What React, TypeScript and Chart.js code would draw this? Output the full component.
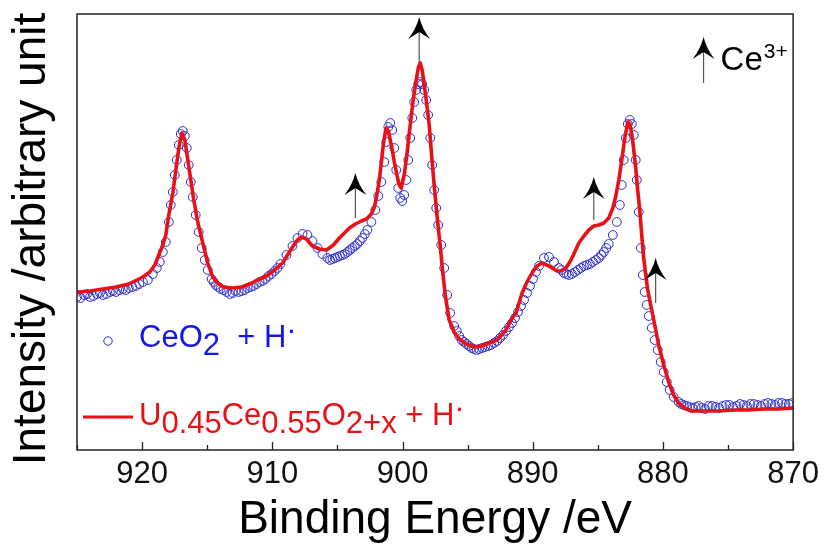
import React, { useEffect, useRef } from 'react';
import { Chart, registerables } from 'chart.js';

Chart.register(...registerables);

// Binding energy (eV) and intensity (arbitrary units) of U0.45Ce0.55O2+x + H· (red line)
const redE = [925.0, 924.0, 923.01, 922.01, 921.02, 919.94, 919.41, 919.02, 918.72, 918.41, 918.18, 917.95, 917.64, 917.41, 917.18, 916.95, 916.72, 916.49, 916.26, 916.03, 915.73, 915.34, 914.96, 914.58, 914.2, 913.74, 913.05, 912.36, 911.74, 911.13, 910.44, 909.83, 909.21, 908.83, 908.45, 908.07, 907.76, 907.38, 906.92, 906.38, 905.84, 905.31, 904.85, 904.46, 904.08, 903.62, 903.16, 902.78, 902.39, 902.16, 902.01, 901.78, 901.63, 901.48, 901.32, 901.25, 901.09, 900.86, 900.63, 900.4, 900.25, 900.1, 899.87, 899.64, 899.41, 899.18, 898.95, 898.79, 898.64, 898.49, 898.33, 898.18, 897.95, 897.8, 897.57, 897.34, 897.11, 896.95, 896.72, 896.42, 896.03, 895.65, 895.11, 894.5, 893.89, 893.35, 892.74, 892.05, 891.67, 891.28, 890.82, 890.44, 890.06, 889.67, 889.29, 888.91, 888.52, 888.14, 887.84, 887.45, 887.15, 886.84, 886.46, 886.07, 885.69, 885.31, 884.92, 884.54, 884.16, 883.85, 883.62, 883.39, 883.16, 882.93, 882.7, 882.55, 882.39, 882.24, 882.09, 881.94, 881.78, 881.63, 881.48, 881.32, 881.17, 880.94, 880.63, 880.33, 879.94, 879.56, 879.18, 878.79, 878.33, 877.8, 876.88, 875.73, 874.58, 873.43, 872.28, 871.13, 869.98];
const redI = [158, 159, 161, 163, 166, 173, 178, 185, 195, 205, 215, 235, 257, 280, 302, 317, 310, 290, 270, 250, 228, 207, 187, 173, 167, 163, 162, 163, 166, 170, 174, 180, 187, 195, 203, 210, 213, 211, 204, 201, 200, 205, 212, 217, 222, 226, 229, 231, 236, 243, 252, 270, 287, 305, 318, 322, 319, 305, 288, 273, 265, 262, 275, 298, 325, 350, 370, 382, 387, 380, 365, 350, 325, 300, 265, 233, 205, 183, 155, 130, 118, 111, 106, 103, 104, 107, 110, 120, 130, 137, 157, 168, 177, 184, 187, 185, 182, 179, 179, 182, 188, 196, 207, 214, 220, 224, 225, 227, 232, 242, 254, 270, 290, 312, 328, 326, 316, 300, 282, 260, 240, 215, 192, 175, 160, 145, 125, 105, 85, 68, 55, 47, 42, 39, 39, 39, 40, 40, 41, 41, 42];

// Binding energy (eV) and intensity (arbitrary units) of CeO2 + H· (blue circles)
const blueE = [925.0, 924.46, 924.0, 923.47, 923.01, 922.47, 922.01, 921.48, 921.02, 920.48, 919.94, 919.56, 919.18, 918.87, 918.64, 918.41, 918.18, 917.95, 917.8, 917.64, 917.49, 917.34, 917.18, 917.03, 916.88, 916.72, 916.57, 916.42, 916.26, 916.11, 915.88, 915.65, 915.42, 915.19, 914.96, 914.66, 914.35, 913.97, 913.51, 913.05, 912.59, 912.13, 911.67, 911.21, 910.75, 910.29, 909.83, 909.37, 908.91, 908.45, 908.07, 907.68, 907.3, 906.92, 906.53, 906.15, 905.77, 905.38, 905.0, 904.62, 904.23, 903.85, 903.47, 903.08, 902.7, 902.39, 902.09, 901.86, 901.63, 901.4, 901.25, 901.09, 900.94, 900.79, 900.63, 900.48, 900.33, 900.17, 900.02, 899.87, 899.71, 899.56, 899.41, 899.25, 899.1, 898.95, 898.79, 898.64, 898.49, 898.33, 898.18, 898.03, 897.87, 897.72, 897.57, 897.41, 897.26, 897.03, 896.8, 896.57, 896.34, 896.03, 895.65, 895.27, 894.89, 894.5, 894.12, 893.66, 893.2, 892.74, 892.28, 891.82, 891.36, 890.9, 890.44, 889.98, 889.52, 889.14, 888.75, 888.37, 887.99, 887.61, 887.22, 886.76, 886.3, 885.84, 885.38, 884.92, 884.54, 884.16, 883.85, 883.54, 883.31, 883.16, 883.01, 882.85, 882.7, 882.55, 882.39, 882.24, 882.09, 882.01, 881.86, 881.7, 881.55, 881.4, 881.25, 881.09, 880.86, 880.63, 880.4, 880.17, 879.94, 879.71, 879.48, 879.18, 878.79, 878.41, 877.95, 877.49, 877.03, 876.49, 875.96, 875.42, 874.89, 874.35, 873.81, 873.28, 872.74, 872.2, 871.67, 871.13, 870.59, 870.06,
  924.73, 924.23, 923.74, 923.24, 922.74, 922.24, 921.75, 921.25, 920.75, 920.21,
  914.5, 914.15, 913.74, 913.28, 912.82, 912.36, 911.9, 911.44, 910.98, 910.52, 910.06, 909.6,
  905.57, 905.19, 904.81, 904.43, 904.04, 903.66, 903.27, 902.89,
  895.84, 895.46, 895.08, 894.7, 894.31, 893.89, 893.43, 892.97, 892.51, 892.05, 891.59, 891.13, 890.67, 890.21, 889.75,
  887.8, 887.41, 886.99, 886.53, 886.07, 885.61, 885.15, 884.73, 884.35,
  878.6, 878.18, 877.72, 877.26, 876.76, 876.22, 875.69, 875.15, 874.62, 874.08, 873.55, 873.01, 872.47, 871.94, 871.4, 870.86, 870.33];
const blueI = [153, 155, 153, 156, 155, 158, 158, 161, 162, 164, 168, 170, 176, 182, 188, 198, 208, 228, 245, 258, 275, 290, 305, 316, 319, 314, 302, 285, 268, 253, 235, 218, 202, 190, 180, 171, 165, 161, 158, 157, 158, 160, 163, 166, 169, 174, 179, 186, 195, 204, 212, 216, 215, 209, 202, 196, 192, 191, 193, 195, 198, 202, 206, 212, 220, 228, 240, 254, 268, 288, 308, 323, 327, 320, 302, 280, 262, 252, 249, 255, 270, 290, 312, 332, 348, 360, 366, 368, 366, 360, 350, 335, 312, 285, 260, 242, 225, 205, 182, 155, 137, 124, 114, 108, 104, 101, 101, 103, 105, 109, 115, 123, 132, 144, 157, 171, 184, 192, 193, 188, 182, 177, 175, 178, 182, 185, 188, 192, 198, 206, 215, 228, 245, 265, 290, 312, 326, 330, 326, 315, 290, 270, 238, 202, 175, 158, 145, 134, 122, 110, 100, 88, 78, 68, 60, 53, 48, 45, 43, 43, 42, 44, 43, 44, 45, 44, 45, 46, 45, 46, 46, 47, 46, 47,
  152, 156, 154, 157, 156, 159, 160, 160, 163, 166,
  168, 163, 160, 156, 159, 159, 162, 164, 168, 171, 176, 182,
  190, 192, 194, 196, 200, 204, 209, 216,
  119, 110, 106, 102, 100, 102, 104, 107, 112, 119, 127, 138, 150, 164, 178,
  180, 176, 176, 180, 184, 186, 190, 195, 202,
  46, 44, 42, 44, 41, 44, 42, 45, 43, 46, 44, 46, 44, 47, 45, 47, 46];

// Ce3+ marker arrows: position (eV), tip and tail (intensity units)
const arrowE = [903.62, 898.72, 885.31, 880.56];
const arrowTipI = [277, 433, 273, 192];
const arrowTailI = [232, 387, 230, 147];
const keyArrowE = 876.88;
const keyArrowTipI = 413;
const keyArrowTailI = 367;

const xMin = 870;
const xMax = 925;
const yMin = 0;
const yMax = 436;

const FONT = "'Liberation Sans', Arial, Helvetica, sans-serif";
const RED = 'rgb(232,18,22)';
const BLUE_TEXT = 'rgb(22,22,232)';
const BLUE_MARK = 'rgb(44,44,205)';

type Seg = [string, number];

function drawSegments(ctx: CanvasRenderingContext2D, x: number, y: number, segs: Seg[], size: number, color: string) {
  ctx.font = `${size}px ${FONT}`;
  ctx.fillStyle = color;
  ctx.textAlign = 'left';
  ctx.textBaseline = 'alphabetic';
  let cx = x;
  for (const [t, dy] of segs) {
    ctx.fillText(t, cx, y + dy);
    cx += ctx.measureText(t).width;
  }
}

function drawArrow(ctx: CanvasRenderingContext2D, x: number, yTip: number, yTail: number) {
  const hw = 11;
  const hh = 22;
  const notch = 15;
  ctx.strokeStyle = '#555';
  ctx.lineWidth = 1.2;
  ctx.beginPath();
  ctx.moveTo(x, yTip + notch);
  ctx.lineTo(x, yTail);
  ctx.stroke();
  ctx.fillStyle = '#000';
  ctx.beginPath();
  ctx.moveTo(x, yTip);
  ctx.quadraticCurveTo(x + 3, yTip + 12, x + hw, yTip + hh);
  ctx.lineTo(x, yTip + notch);
  ctx.lineTo(x - hw, yTip + hh);
  ctx.quadraticCurveTo(x - 3, yTip + 12, x, yTip);
  ctx.closePath();
  ctx.fill();
}

const decorPlugin = {
  id: 'decor',
  afterDraw(chart: any) {
    const { ctx, chartArea: a, scales } = chart;
    const xs = scales.x;
    const ys = scales.y;
    ctx.save();
    // frame
    ctx.strokeStyle = '#222';
    ctx.lineWidth = 1.5;
    ctx.strokeRect(a.left, a.top, a.right - a.left, a.bottom - a.top);
    // inward ticks
    ctx.beginPath();
    for (const t of xs.ticks) {
      const px = Math.round(xs.getPixelForValue(t.value)) + 0.5;
      const len = t.value % 10 === 0 ? 8 : 5;
      ctx.moveTo(px, a.bottom);
      ctx.lineTo(px, a.bottom - len);
    }
    ctx.lineWidth = 1.3;
    ctx.stroke();

    // arrows
    arrowE.forEach((e, i) => {
      drawArrow(ctx, xs.getPixelForValue(e), ys.getPixelForValue(arrowTipI[i]), ys.getPixelForValue(arrowTailI[i]));
    });
    const kx = xs.getPixelForValue(keyArrowE);
    const kTip = ys.getPixelForValue(keyArrowTipI);
    drawArrow(ctx, kx, kTip, ys.getPixelForValue(keyArrowTailI));
    drawSegments(ctx, kx + 17, kTip + 33, [['Ce', 0]], 33, '#000');
    ctx.font = `33px ${FONT}`;
    const ceW = ctx.measureText('Ce').width;
    drawSegments(ctx, kx + 18 + ceW, kTip + 21, [['3+', 0]], 21, '#000');

    // legend
    const lx = a.left;
    ctx.strokeStyle = BLUE_MARK;
    ctx.lineWidth = 1;
    ctx.beginPath();
    ctx.arc(lx + 31, 341, 4.2, 0, Math.PI * 2);
    ctx.stroke();
    drawSegments(ctx, lx + 62, 347, [['CeO', 0], ['2', 8], ['  + H', 0], ['\u00b7', -7]], 31, BLUE_TEXT);

    ctx.strokeStyle = RED;
    ctx.lineWidth = 3.2;
    ctx.beginPath();
    ctx.moveTo(lx + 6, 417);
    ctx.lineTo(lx + 56, 417);
    ctx.stroke();
    drawSegments(ctx, lx + 62, 425, [['U', 0], ['0.45', 8], ['Ce', 0], ['0.55', 8], ['O', 0], ['2+x', 8], [' + H', 0], ['\u00b7', -7]], 31, RED);

    // y-axis title
    ctx.translate(45, 239);
    ctx.rotate(-Math.PI / 2);
    ctx.font = `46px ${FONT}`;
    ctx.fillStyle = '#000';
    ctx.textAlign = 'center';
    ctx.textBaseline = 'alphabetic';
    ctx.fillText('Intensity /arbitrary unit', 0, 0);
    ctx.restore();
  },
};

export default function App() {
  const canvasRef = useRef<HTMLCanvasElement | null>(null);

  useEffect(() => {
    const canvas = canvasRef.current;
    if (!canvas) return;
    const redData = redE.map((e, i) => ({ x: e, y: redI[i] }));
    const blueData = blueE.map((e, i) => ({ x: e, y: blueI[i] }));
    const chart = new Chart(canvas, {
      type: 'line',
      data: {
        datasets: [
          {
            label: 'U0.45Ce0.55O2+x + H·',
            data: redData,
            borderColor: RED,
            borderWidth: 3.6,
            pointRadius: 0,
            tension: 0,
            borderJoinStyle: 'round',
            borderCapStyle: 'round',
            fill: false,
            order: 0,
          },
          {
            label: 'CeO2 + H·',
            data: blueData,
            showLine: false,
            borderColor: BLUE_MARK,
            backgroundColor: 'rgba(0,0,0,0)',
            pointStyle: 'circle',
            pointRadius: 4.4,
            pointBorderWidth: 1,
            pointBorderColor: BLUE_MARK,
            pointBackgroundColor: 'rgba(0,0,0,0)',
            order: 1,
          },
        ],
      },
      options: {
        animation: false,
        responsive: false,
        maintainAspectRatio: false,
        devicePixelRatio: 1,
        layout: { padding: { left: 0, top: 14, right: 30, bottom: 0 } },
        plugins: {
          legend: { display: false },
          tooltip: { enabled: false },
          title: { display: false },
        },
        scales: {
          x: {
            type: 'linear',
            position: 'bottom',
            min: xMin,
            max: xMax,
            reverse: true,
            grid: { display: false, drawTicks: false },
            border: { display: false },
            ticks: {
              stepSize: 5,
              autoSkip: false,
              maxRotation: 0,
              padding: 6,
              color: '#111',
              font: { family: FONT, size: 31 },
              callback: (v: any) => (Number(v) % 10 === 0 ? String(v) : ''),
            },
            title: {
              display: true,
              text: 'Binding Energy /eV',
              color: '#000',
              font: { family: FONT, size: 46, lineHeight: 1.1 },
              padding: { top: 0, bottom: 0 },
            },
            afterFit: (s: any) => {
              s.height = 96;
            },
          },
          y: {
            type: 'linear',
            min: yMin,
            max: yMax,
            grid: { display: false, drawTicks: false },
            border: { display: false },
            ticks: { display: false },
            afterFit: (s: any) => {
              s.width = 77;
            },
          },
        },
      },
      plugins: [decorPlugin],
    });
    return () => chart.destroy();
  }, []);

  return (
    <div style={{ position: 'absolute', left: 0, top: 0, width: 825, height: 546, background: '#fff' }}>
      <canvas ref={canvasRef} width={825} height={546} style={{ display: 'block', width: 825, height: 546 }} />
    </div>
  );
}
